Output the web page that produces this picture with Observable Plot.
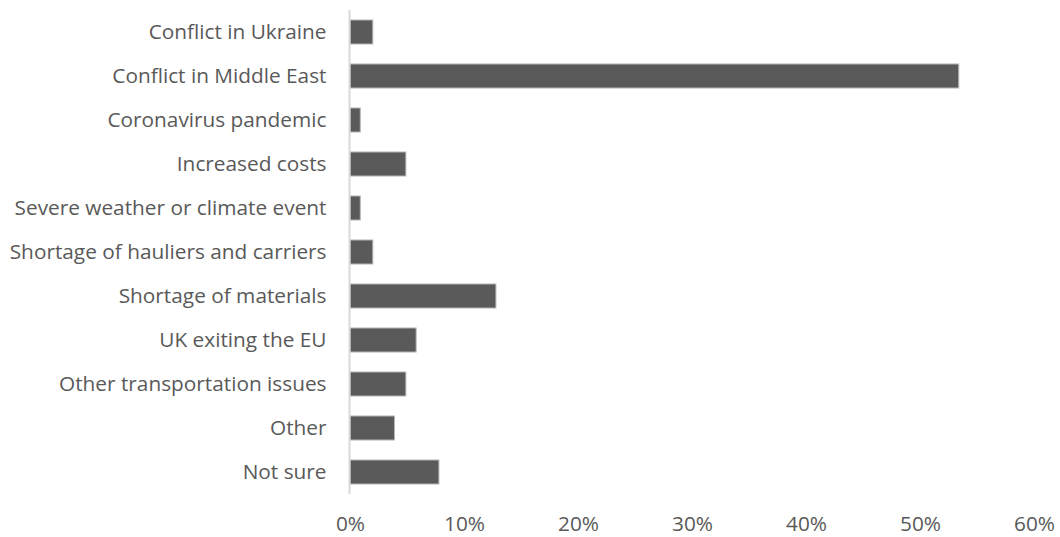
<!DOCTYPE html>
<html>
<head>
<meta charset="utf-8">
<script src="https://cdn.jsdelivr.net/npm/d3@7"></script>
<script src="https://cdn.jsdelivr.net/npm/@observablehq/plot@0.6"></script>
<style>
  html, body { margin: 0; padding: 0; background: #ffffff; }
</style>
</head>
<body>
<div id="chart"></div>
<script>
const categories = [
  "Conflict in Ukraine",
  "Conflict in Middle East",
  "Coronavirus pandemic",
  "Increased costs",
  "Severe weather or climate event",
  "Shortage of hauliers and carriers",
  "Shortage of materials",
  "UK exiting the EU",
  "Other transportation issues",
  "Other",
  "Not sure"
];
const values = [2, 53.4, 0.9, 4.9, 0.9, 2, 12.8, 5.8, 4.9, 3.9, 7.8];
const xTicks = [0, 10, 20, 30, 40, 50, 60];

const data = categories.map((c, i) => ({category: c, value: values[i]}));

const chart = Plot.plot({
  width: 1060,
  height: 537,
  marginLeft: 350,
  marginRight: 26,
  marginTop: 10,
  marginBottom: 43,
  style: {
    fontFamily: "'Open Sans', sans-serif",
    fontSize: "20.8px",
    color: "#595959",
    background: "#ffffff"
  },
  x: {
    domain: [0, 60],
    ticks: xTicks,
    tickFormat: d => d + "%",
    tickSize: 0,
    tickPadding: 22,
    label: null
  },
  y: {
    domain: categories,
    paddingInner: 0.45,
    paddingOuter: 0.225,
    tickSize: 0,
    tickPadding: 24,
    label: null
  },
  marks: [
    Plot.barX(data, {x: "value", y: "category", fill: "#5a5a5a", stroke: "#b4b4b4", strokeWidth: 1}),
    Plot.ruleX([0], {stroke: "#d9d9d9", strokeWidth: 2, dx: -1})
  ]
});
document.getElementById("chart").appendChild(chart);
</script>
</body>
</html>
